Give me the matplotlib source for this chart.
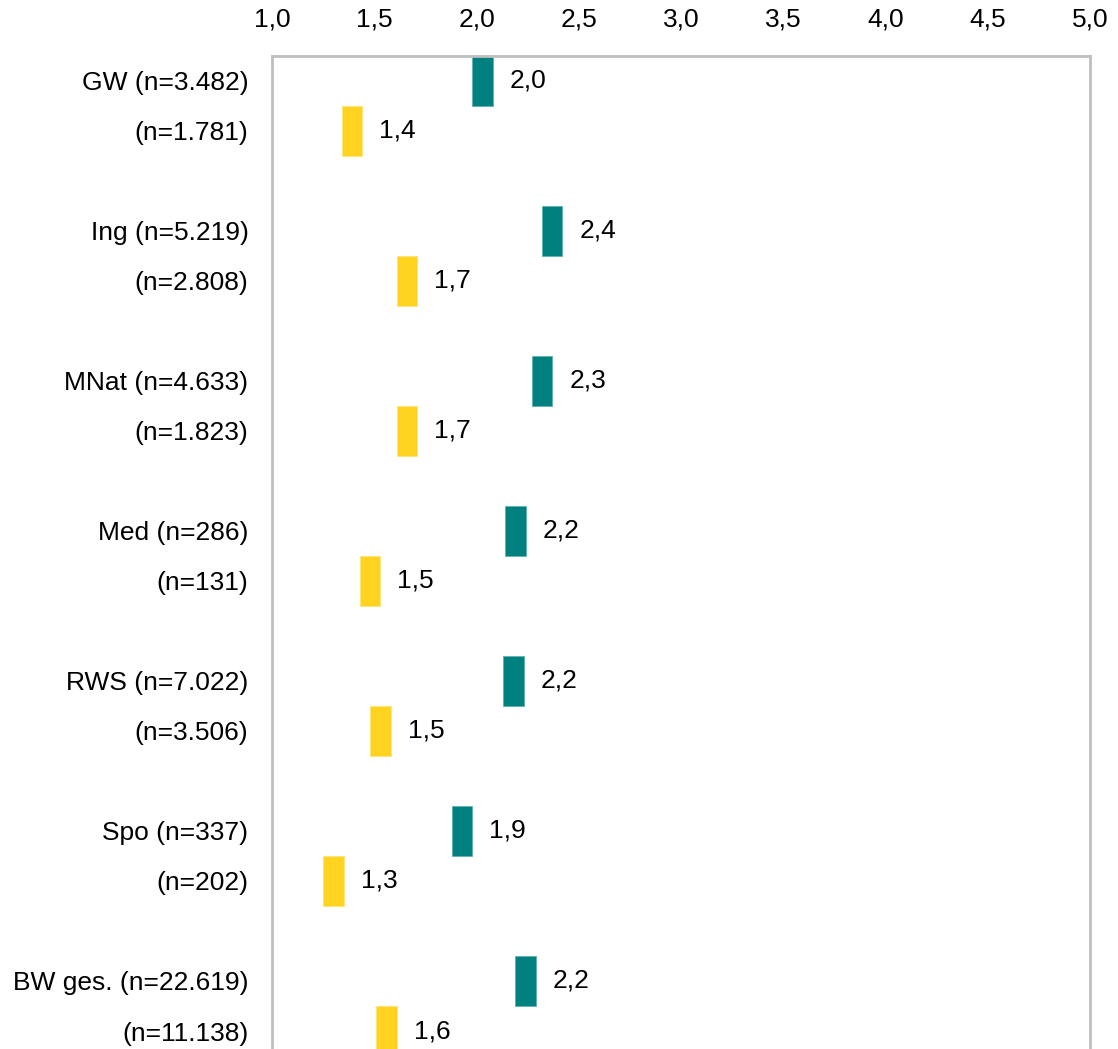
import matplotlib
matplotlib.use("Agg")
import matplotlib.pyplot as plt

plt.rcParams["font.family"] = ["Liberation Sans", "DejaVu Sans"]

# Data
groups = ["GW", "Ing", "MNat", "Med", "RWS", "Spo", "BW ges."]
n_first = ["3.482", "5.219", "4.633", "286", "7.022", "337", "22.619"]
n_second = ["1.781", "2.808", "1.823", "131", "3.506", "202", "11.138"]
values_first = [2.03, 2.37, 2.32, 2.19, 2.18, 1.93, 2.24]
values_second = [1.39, 1.66, 1.66, 1.48, 1.53, 1.30, 1.56]
x_ticks = [1.0, 1.5, 2.0, 2.5, 3.0, 3.5, 4.0, 4.5, 5.0]

TEAL = "#00807F"
YELLOW = "#FFD320"
FRAME = "#BFBFBF"

W, H = 1118, 1049
fig = plt.figure(figsize=(W / 100, H / 100), dpi=100)
ax = fig.add_axes([272 / W, (H - 1056) / H, 818 / W, 1000 / H])

bar_w = 0.1
y_first = [3 * i for i in range(len(groups))]
y_second = [3 * i + 1 for i in range(len(groups))]

ax.barh(y_first, bar_w, left=[v - bar_w / 2 for v in values_first],
        height=1.0, color=TEAL, edgecolor="#5FB3B2", linewidth=0.6)
ax.barh(y_second, bar_w, left=[v - bar_w / 2 for v in values_second],
        height=1.0, color=YELLOW, edgecolor="#FFE37A", linewidth=0.6)

# value labels to the right of each marker
for y, v in zip(y_first + y_second, values_first + values_second):
    ax.text(v + bar_w / 2 + 0.083, y, f"{v:.1f}".replace(".", ","),
            ha="left", va="center", fontsize=19)

ax.set_xlim(1.0, 5.0)
ax.set_ylim(19.5, -0.5)
ax.set_xticks(x_ticks)
ax.set_xticklabels([f"{t:.1f}".replace(".", ",") for t in x_ticks])
ax.xaxis.tick_top()

ax.set_yticks(y_first + y_second)
ax.set_yticklabels([f"{g} (n={n})" for g, n in zip(groups, n_first)]
                   + [f"(n={n})" for n in n_second])

ax.tick_params(axis="both", length=0, labelsize=19)
ax.tick_params(axis="x", pad=18)
ax.tick_params(axis="y", pad=17)

for side in ["top", "left", "right"]:
    ax.spines[side].set_color(FRAME)
    ax.spines[side].set_linewidth(2)
ax.spines["bottom"].set_visible(False)

fig.savefig("out.png", dpi=100)
